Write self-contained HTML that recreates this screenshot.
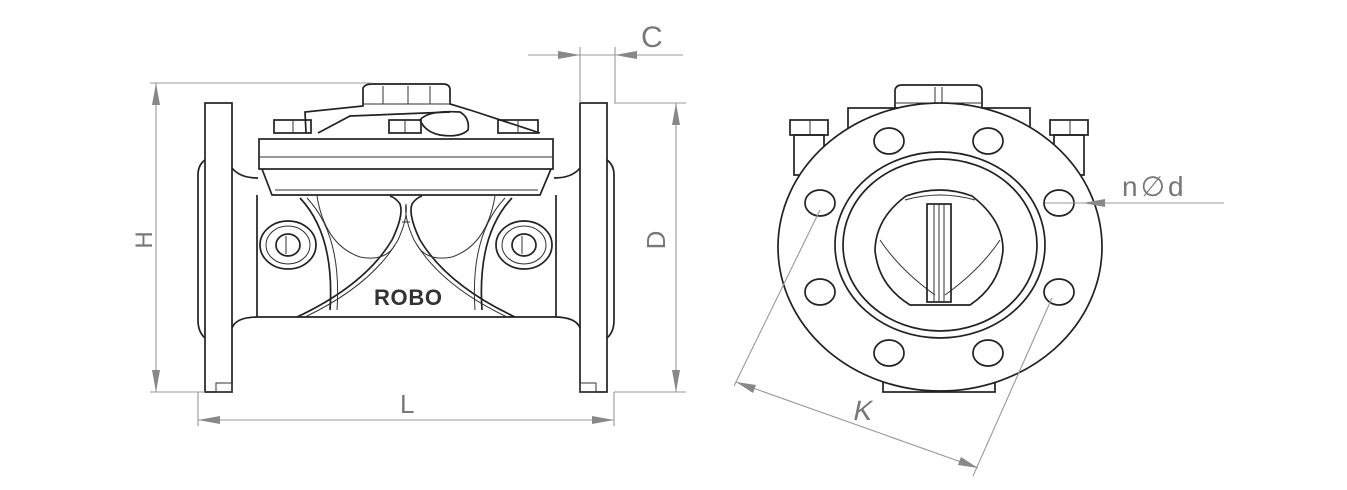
<!DOCTYPE html>
<html><head><meta charset="utf-8"><style>
html,body{margin:0;padding:0;background:#fff;width:1347px;height:490px;overflow:hidden}
svg{display:block}
.k{fill:none;stroke:#222;stroke-width:1.7}
.t{fill:none;stroke:#333;stroke-width:1}
.d{fill:none;stroke:#999;stroke-width:1.1}
.a{fill:#888}
.lb{font-family:"Liberation Sans",sans-serif;fill:#777;font-weight:300}
</style></head><body>
<svg width="1347" height="490" viewBox="0 0 1347 490" xmlns="http://www.w3.org/2000/svg">
<!-- ===== LEFT VIEW ===== -->
<rect class="k" x="205" y="103" width="27" height="289"/>
<path class="k" d="M205 160 Q198 165 198 175 L198 320 Q198 332 205 338"/>
<rect class="t" x="216" y="383" width="16" height="9"/>
<rect class="k" x="580" y="103" width="27" height="289"/>
<path class="k" d="M607 160 Q614 165 614 175 L614 320 Q614 332 607 338"/>
<rect class="t" x="580" y="383" width="16" height="9"/>
<path class="k" d="M232 168 Q240 178 258 178"/>
<path class="k" d="M580 168 Q572 178 554 178"/>
<path class="k" d="M232 328 Q236 317 258 317 L554 317 Q576 317 580 328"/>
<path class="k" d="M257 195 L257 317 M556 195 L556 317"/>
<rect class="k" x="259" y="139" width="294" height="30"/>
<line class="t" x1="259" y1="157" x2="553" y2="157"/>
<path class="k" d="M262 169 L272 195 L540 195 L551 169"/>
<line class="t" x1="275" y1="190" x2="538" y2="190"/>
<path class="k" d="M306 133 L305 112 L363 106 L363 88 Q365 84 372 84 L443 84 Q450 84 450 90 L450 104 L470 110 L540 133"/>
<line class="t" x1="363" y1="104" x2="450" y2="104"/>
<line class="t" x1="383" y1="86" x2="383" y2="104"/>
<line class="t" x1="408" y1="86" x2="408" y2="104"/>
<line class="t" x1="430" y1="86" x2="430" y2="104"/>
<path class="k" d="M318 133 L350 116 L450 112"/>
<path class="k" d="M420 120 Q428 110 460 112 Q470 118 468 130 Q460 138 440 135 Q425 132 420 120Z"/>
<rect class="k" x="274" y="120" width="37" height="13"/>
<line class="t" x1="293" y1="120" x2="293" y2="133"/>
<rect class="k" x="389" y="120" width="32" height="13"/>
<line class="t" x1="405" y1="120" x2="405" y2="133"/>
<rect class="k" x="498" y="120" width="40" height="13"/>
<line class="t" x1="518" y1="120" x2="518" y2="133"/>
<!-- ribs -->
<path class="k" d="M297 317 Q365 285 392 240 Q404 215 400 204 Q396 198 390 196"/>
<path class="t" d="M305 317 Q372 285 398 240 Q408 218 406 204"/>
<path class="k" d="M515 317 Q447 285 420 240 Q408 215 412 204 Q416 198 422 196"/>
<path class="t" d="M507 317 Q440 285 414 240 Q404 218 406 204"/>
<path class="t" d="M402 222 L410 222"/>
<!-- half-disc arcs -->
<path class="t" d="M317 196 Q325 245 360 257 Q385 262 395 245"/>
<path class="t" d="M495 196 Q487 245 452 257 Q427 262 417 245"/>
<path class="k" d="M300 198 Q335 235 330 310"/>
<path class="t" d="M307 198 Q342 235 337 310"/>
<path class="k" d="M512 198 Q477 235 482 310"/>
<path class="t" d="M505 198 Q470 235 475 310"/>
<ellipse class="k" cx="288" cy="245" rx="28" ry="24"/>
<ellipse class="t" cx="288" cy="245" rx="22" ry="19"/>
<ellipse class="k" cx="288" cy="245" rx="12" ry="11"/>
<line class="t" x1="286" y1="236" x2="286" y2="254"/>
<ellipse class="k" cx="524" cy="245" rx="28" ry="24"/>
<ellipse class="t" cx="524" cy="245" rx="22" ry="19"/>
<ellipse class="k" cx="524" cy="245" rx="12" ry="11"/>
<line class="t" x1="522" y1="236" x2="522" y2="254"/>
<text x="374" y="305" font-family="Liberation Sans,sans-serif" font-weight="bold" font-size="22" fill="#333" textLength="68">ROBO</text>
<!-- dims left -->
<line class="d" x1="150" y1="83" x2="372" y2="83"/>
<line class="d" x1="150" y1="392" x2="205" y2="392"/>
<line class="d" x1="156" y1="83" x2="156" y2="392"/>
<path class="a" d="M156 83 l-4 22 h8z M156 392 l-4 -22 h8z"/>
<text class="lb" font-size="24" transform="translate(152,240) rotate(-90)" text-anchor="middle">H</text>
<line class="d" x1="614" y1="103" x2="686" y2="103"/>
<line class="d" x1="614" y1="392" x2="686" y2="392"/>
<line class="d" x1="676" y1="103" x2="676" y2="392"/>
<path class="a" d="M676 103 l-4 22 h8z M676 392 l-4 -22 h8z"/>
<text class="lb" font-size="26" transform="translate(665,240) rotate(-90)" text-anchor="middle">D</text>
<line class="d" x1="198" y1="392" x2="198" y2="426"/>
<line class="d" x1="614" y1="392" x2="614" y2="426"/>
<line class="d" x1="198" y1="420" x2="614" y2="420"/>
<path class="a" d="M198 420 l22 -4 v8z M614 420 l-22 -4 v8z"/>
<text class="lb" x="400" y="413" font-size="26">L</text>
<line class="d" x1="580" y1="47" x2="580" y2="103"/>
<line class="d" x1="615" y1="47" x2="615" y2="103"/>
<line class="d" x1="528" y1="55" x2="683" y2="55"/>
<path class="a" d="M580 55 l-22 -4 v8z M615 55 l22 -4 v8z"/>
<text class="lb" x="641" y="47" font-size="30">C</text>
<!-- ===== RIGHT VIEW ===== -->
<rect class="k" x="848" y="108" width="182" height="30"/>
<path class="k" d="M895 108 L895 90 Q896 85 902 85 L975 85 Q982 85 982 91 L982 108"/>
<line class="t" x1="895" y1="103" x2="982" y2="103"/>
<line class="t" x1="935" y1="87" x2="935" y2="103"/>
<line class="t" x1="942" y1="87" x2="942" y2="103"/>
<rect class="k" x="790" y="120" width="38" height="15"/>
<line class="t" x1="810" y1="120" x2="810" y2="135"/>
<rect class="k" x="794" y="135" width="30" height="40"/>
<rect class="k" x="1050" y="120" width="38" height="15"/>
<line class="t" x1="1070" y1="120" x2="1070" y2="135"/>
<rect class="k" x="1054" y="135" width="30" height="40"/>
<rect class="k" x="883" y="382" width="112" height="10"/>
<ellipse class="k" cx="940" cy="247" rx="162" ry="144" style="fill:#fff"/>
<ellipse class="k" cx="940" cy="245" rx="105" ry="93"/>
<ellipse class="k" cx="940" cy="245" rx="97" ry="86"/>
<path class="k" d="M906 196 Q940 184 972 196 Q1003 220 1003 250 Q1000 285 970 305 L910 305 Q878 285 875 250 Q876 218 906 196Z"/>
<path class="t" d="M905 200 Q940 190 975 200 M880 240 Q900 270 935 295 M1000 240 Q980 270 945 295"/>
<rect class="k" x="927" y="204" width="24" height="98"/>
<line class="t" x1="934" y1="204" x2="934" y2="302"/>
<line class="t" x1="939" y1="204" x2="939" y2="302"/>
<line class="t" x1="944" y1="204" x2="944" y2="302"/>
<g class="k">
<ellipse cx="889" cy="141" rx="15" ry="13"/><ellipse cx="988" cy="141" rx="15" ry="13"/>
<ellipse cx="820" cy="203" rx="15" ry="13"/><ellipse cx="1059" cy="203" rx="15" ry="13"/>
<ellipse cx="820" cy="292" rx="15" ry="13"/><ellipse cx="1059" cy="292" rx="15" ry="13"/>
<ellipse cx="889" cy="353" rx="15" ry="13"/><ellipse cx="988" cy="353" rx="15" ry="13"/>
</g>
<line class="d" x1="1045" y1="203" x2="1224" y2="203"/>
<path class="a" d="M1083 203 l22 -4 v8z"/>
<text class="lb" x="1122" y="196" font-size="28" letter-spacing="3">n∅d</text>
<line class="d" x1="820" y1="210" x2="734" y2="386"/>
<line class="d" x1="1052" y1="298" x2="973" y2="476"/>
<line class="d" x1="736" y1="382" x2="978" y2="468"/>
<path class="a" d="M736 382 l20 3 l-3 8z M978 468 l-20 -3 l3 -8z"/>
<text class="lb" font-size="28" transform="translate(852,420) skewX(-12)">K</text>
</svg>
</body></html>
